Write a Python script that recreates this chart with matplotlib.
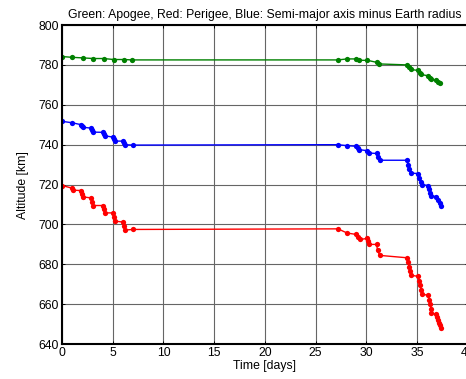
import numpy as np
import matplotlib
matplotlib.use('Agg')
import matplotlib.pyplot as plt

plt.rcParams['font.family'] = ['Liberation Sans', 'DejaVu Sans']

# apogee (green)
t_apo = [0, 1.0, 2.1, 3.1, 4.1, 5.1, 6.1, 6.9,
         27.2, 28.1, 29.0, 29.3, 30.1, 31.0, 31.2,
         34.0, 34.2, 34.4, 35.1, 35.3, 35.4, 36.1, 36.3, 36.4, 36.9, 37.1, 37.3]
h_apo = [784.2, 783.8, 783.5, 783.2, 783.2, 782.7, 782.7, 782.5,
         782.5, 783.0, 783.0, 782.3, 782.3, 781.3, 780.5,
         780.0, 778.8, 777.7, 777.2, 776.0, 775.2, 774.5, 773.5, 772.7, 772.3, 771.3, 770.8]

# semi-major axis minus earth radius (blue)
t_sma = [0, 1.0, 1.9, 2.0, 2.1, 2.9, 3.0, 3.1, 4.0, 4.1, 4.2, 5.0, 5.1, 5.2, 6.0, 6.1, 6.2, 7.0,
         27.2, 28.1, 29.0, 29.2, 29.3, 30.1, 30.3, 31.0, 31.1, 31.3,
         34.0, 34.1, 34.2, 34.35, 35.1, 35.2, 35.35, 35.5, 36.1, 36.2, 36.3, 36.4,
         36.9, 37.1, 37.25, 37.4]
h_sma = [751.7, 751.0, 750.0, 749.3, 748.7, 748.3, 747.2, 746.3, 746.2, 745.3, 744.5,
         743.8, 742.8, 741.8, 741.8, 740.9, 740.0, 739.8,
         740.0, 739.5, 739.2, 738.3, 737.5, 737.0, 735.8, 735.6, 734.0, 732.2,
         732.2, 730.0, 727.8, 725.8, 725.5, 723.5, 721.5, 720.0, 719.5, 717.8, 716.0, 714.3,
         714.0, 712.3, 710.7, 709.2]

# perigee (red)
t_per = [0, 0.95, 1.05, 1.9, 2.0, 2.1, 2.9, 3.0, 3.1, 4.0, 4.1, 4.2, 5.0, 5.1, 5.2,
         6.0, 6.1, 6.2, 7.0,
         27.2, 28.1, 29.0, 29.2, 29.4, 30.1, 30.2, 30.3, 31.0, 31.1, 31.3,
         34.0, 34.1, 34.2, 34.3, 34.4, 35.1, 35.2, 35.3, 35.4, 35.5,
         36.1, 36.2, 36.3, 36.35, 36.4, 36.9, 37.0, 37.1, 37.2, 37.3, 37.4]
h_per = [719.5, 718.3, 717.2, 717.0, 715.4, 713.8, 713.3, 711.4, 709.5, 709.5, 707.6, 705.8,
         705.8, 703.8, 701.7, 701.2, 699.2, 697.2, 697.5,
         697.8, 695.7, 695.0, 693.8, 692.5, 693.0, 691.5, 690.0, 690.0, 687.2, 684.5,
         683.3, 681.0, 678.8, 676.6, 674.5, 674.0, 671.8, 669.5, 667.2, 665.0,
         664.5, 662.2, 660.0, 657.8, 655.5, 655.0, 653.6, 652.2, 650.8, 649.4, 648.0]

fig = plt.figure(figsize=(4.66, 3.79), dpi=100)
ax = fig.add_axes([0.133, 0.092, 0.871, 0.842])

ax.plot(t_apo, h_apo, '-', color='#008000', lw=1.0, marker='o', ms=3.8, mew=0)
ax.plot(t_sma, h_sma, '-', color='#0000ff', lw=1.0, marker='o', ms=3.8, mew=0)
ax.plot(t_per, h_per, '-', color='#ff0000', lw=1.0, marker='o', ms=3.8, mew=0)

ax.set_xlim(0, 40)
ax.set_ylim(640, 800)
ax.set_xticks(np.arange(0, 41, 5))
ax.set_yticks(np.arange(640, 801, 20))
ax.grid(True, color='0.4', lw=0.8)
ax.tick_params(direction='in', length=2.5, top=True, right=True, labelsize=8.8, pad=2, width=0.7)
for s in ax.spines.values():
    s.set_linewidth(1.5)

ax.set_title('Green: Apogee, Red: Perigee, Blue: Semi-major axis minus Earth radius',
             fontsize=8.8, pad=5)
ax.set_xlabel('Time [days]', fontsize=8.8, labelpad=1)
ax.set_ylabel('Altitude [km]', fontsize=8.8, labelpad=7)

fig.savefig('out.png', dpi=100)
